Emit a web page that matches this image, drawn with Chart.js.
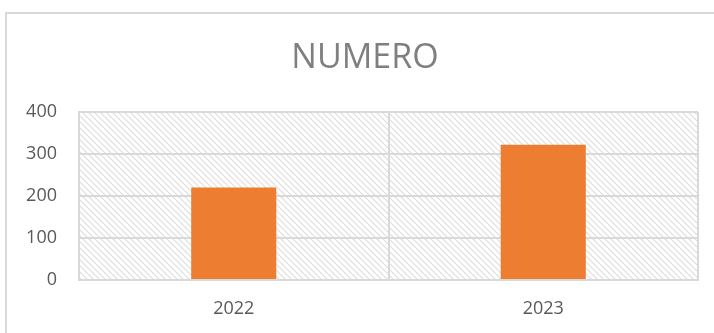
<!DOCTYPE html>
<html>
<head>
<meta charset="utf-8">
<title>NUMERO</title>
<script src="https://cdn.jsdelivr.net/npm/chart.js@4.4.1/dist/chart.umd.min.js"></script>
<style>
  html, body { margin: 0; padding: 0; background: #fff; }
  canvas { display: block; }
</style>
</head>
<body>
<canvas id="numChart" width="714" height="333"></canvas>
<script>
const years = ['2022', '2023'];
const numero = [220, 322];
const yMax = 400;
const yStep = 100;

const gridGray = '#d9d9d9';
const textGray = '#595959';

// diagonal hatch used as the plot area fill
function hatchPattern(ctx) {
  const c = document.createElement('canvas');
  c.width = 6; c.height = 6;
  const p = c.getContext('2d');
  p.fillStyle = '#fff';
  p.fillRect(0, 0, 6, 6);
  p.strokeStyle = '#dedede';
  p.lineWidth = 1.2;
  p.beginPath();
  p.moveTo(-1, -1); p.lineTo(7, 7);
  p.moveTo(-4, 2); p.lineTo(1, 7);
  p.moveTo(5, -1); p.lineTo(8, 2);
  p.stroke();
  return ctx.createPattern(c, 'repeat');
}

const backdrop = {
  id: 'backdrop',
  beforeDraw(chart) {
    const { ctx, chartArea: a } = chart;
    ctx.save();
    // outer frame
    ctx.strokeStyle = gridGray;
    ctx.lineWidth = 2;
    ctx.strokeRect(6, 13, 2000, 2000);
    // hatched plot area
    ctx.fillStyle = hatchPattern(ctx);
    ctx.fillRect(a.left, a.top, a.right - a.left, a.bottom - a.top);
    ctx.restore();
  },
  afterDraw(chart) {
    const ctx = chart.ctx;
    ctx.save();
    ctx.font = '34px "Open Sans"';
    ctx.fillStyle = '#7f7f7f';
    ctx.textAlign = 'center';
    ctx.textBaseline = 'alphabetic';
    ctx.fillText('NUMERO', 365, 68);
    ctx.restore();
  }
};

const tickFont = { family: 'Open Sans', size: 18 };

new Chart(document.getElementById('numChart'), {
  type: 'bar',
  data: {
    labels: years,
    datasets: [{
      label: 'NUMERO',
      data: numero,
      backgroundColor: '#ED7D31',
      borderWidth: 0,
      categoryPercentage: 1,
      barPercentage: 0.275
    }]
  },
  options: {
    responsive: false,
    animation: false,
    layout: { padding: { top: 112, right: 16, left: 0, bottom: 0 } },
    plugins: {
      legend: { display: false },
      title: { display: false },
      tooltip: { enabled: false }
    },
    scales: {
      x: {
        grid: { color: gridGray, lineWidth: 2, drawTicks: false, offset: true },
        border: { color: gridGray, width: 2 },
        ticks: { color: textGray, font: tickFont, padding: 18 },
        afterFit(scale) { scale.height = 53; }
      },
      y: {
        min: 0,
        max: yMax,
        ticks: { stepSize: yStep, color: textGray, font: tickFont, padding: 22 },
        grid: { color: gridGray, lineWidth: 2, drawTicks: false },
        border: { color: gridGray, width: 2 },
        afterFit(scale) { scale.width = 79; }
      }
    }
  },
  plugins: [backdrop]
});
</script>
</body>
</html>
